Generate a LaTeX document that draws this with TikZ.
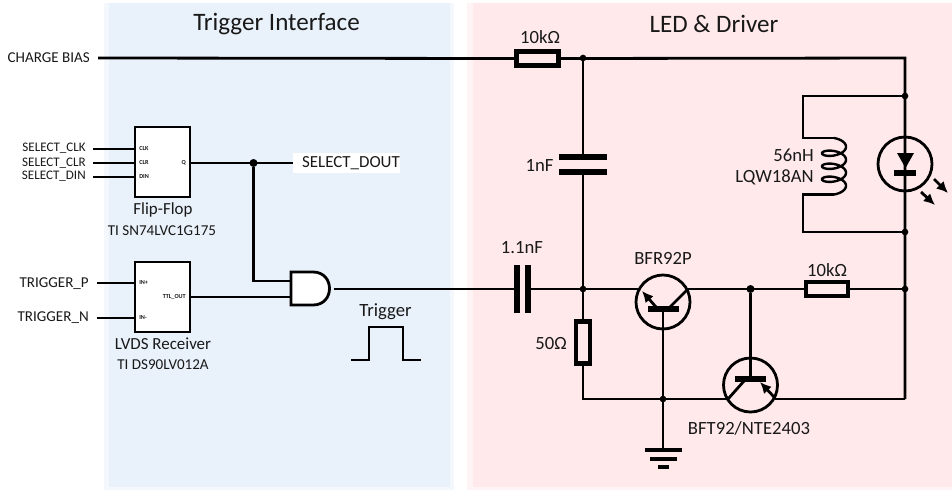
\documentclass[tikz,border=0pt]{standalone}
\usepackage{fontspec}
\usetikzlibrary{arrows.meta}
\setmainfont{Carlito}
\definecolor{panelb}{HTML}{E9F1FA}
\definecolor{panelr}{HTML}{FFE9EB}
\definecolor{halob}{HTML}{F4F8FC}
\definecolor{halor}{HTML}{FFF4F5}
\begin{document}
\begin{tikzpicture}[x=0.75pt,y=-0.75pt,
  wire/.style={line width=2.1pt,line join=miter},
  dotn/.style={circle,fill=black,inner sep=0pt,minimum size=6pt},
  smalldot/.style={circle,fill=black,inner sep=0pt,minimum size=5pt},
  res/.style={draw,line width=3.6pt,fill=none,inner sep=0pt,rectangle},
  chip/.style={draw,line width=2.1pt,fill=white,inner sep=0pt,rectangle,minimum width=41.25pt,minimum height=52.5pt},
  tr/.style={draw,line width=2.1pt,circle,inner sep=0pt,minimum size=40.5pt},
  plate/.style={line width=4pt},
  lab/.style={inner sep=0pt,text=black!90},
  big/.style={lab,font=\fontsize{18.8}{22}\selectfont},
  mid/.style={lab,font=\fontsize{14}{16}\selectfont},
  captxt/.style={lab,font=\fontsize{12.7}{15}\selectfont},
  sel/.style={lab,font=\fontsize{9.8}{11}\selectfont},
  pin/.style={lab,font=\bfseries\fontsize{4.6}{6}\selectfont},
  sub/.style={lab,font=\fontsize{11.3}{13}\selectfont},
  arr/.style={line width=2.1pt,-{Latex[length=8.5pt,width=8pt]}}
]
\useasboundingbox (0,0) rectangle (952,490);
\fill[white] (0,0) rectangle (952,490);
\fill[halob] (104,3) rectangle (454,490);
\fill[halor] (467,3) rectangle (952,490);
\fill[panelb] (109,3) rectangle (450,487);
\fill[panelr] (473,3) rectangle (952,487);
\node[big] (title1) at (276.5,24.5) {Trigger Interface};
\node[big] (title2) at (714,23.5) {LED \& Driver};

% chips
\node[chip] (ff) at (162.5,162) {};
\node[chip] (lv) at (162.5,297) {};
\node[pin,anchor=west] (ffclk) at (139,149) {CLK};
\node[pin,anchor=west] (ffclr) at (139,163) {CLR};
\node[pin,anchor=west] (ffdin) at (139,177) {DIN};
\node[pin,anchor=east] (ffq) at (186,163) {Q};
\node[pin,anchor=west] (lvp) at (139,283) {IN+};
\node[pin,anchor=west] (lvn) at (139,318) {IN-};
\node[pin,anchor=east] (lvo) at (186,297) {TTL\_OUT};
\node[captxt] (lff) at (163,210) {Flip-Flop};
\node[sub] (lff2) at (162,231) {TI SN74LVC1G175};
\node[captxt] (llv) at (163,344) {LVDS Receiver};
\node[sub] (llv2) at (163,365) {TI DS90LV012A};

% inputs
\node[sel,anchor=east] (sclk) at (86,148) {SELECT\_CLK};
\node[sel,anchor=east] (sclr) at (86,163) {SELECT\_CLR};
\node[sel,anchor=east] (sdin) at (86,176) {SELECT\_DIN};
\node[sub,anchor=east] (tp) at (89,284) {TRIGGER\_P};
\node[sub,anchor=east] (tn) at (89,318) {TRIGGER\_N};
\node[sub,anchor=east] (cb) at (90,58) {CHARGE BIAS};
\foreach \a/\y in {sclk/149,sclr/163,sdin/177}{\coordinate (\a i) at (93,\y); \coordinate (\a o) at (135,\y); \draw[wire] (\a i) -- (\a o);}
\coordinate (tpi) at (97,283); \coordinate (tpo) at (135,283);
\coordinate (tni) at (97,318); \coordinate (tno) at (135,318);
\draw[wire] (tpi) -- (tpo); \draw[wire] (tni) -- (tno);

% select dout
\node[fill=white,inner sep=0pt,minimum width=80pt,minimum height=14.5pt] (doutbg) at (346.5,163) {};
\node[captxt] (dout) at (351,163) {SELECT\_DOUT};
\coordinate (qo) at (190,163);
\coordinate (qe) at (293,163);
\coordinate (qj) at (253.5,163);
\draw[wire] (qo) -- (qe);
\node[dotn] (j1) at (qj) {};
\coordinate (a1) at (291,281);
\coordinate (a2) at (291,297);
\coordinate (lo) at (190,297);
\draw[wire] (j1) |- (a1);
\draw[wire] (lo) -- (a2);
% AND
\draw[line width=2.1pt,fill=white] (291,272) -- (313,272) .. controls (335,272) and (335,305) .. (313,305) -- (291,305) -- cycle;
\coordinate (ao) at (334,289);

% pulse
\coordinate (p0) at (351,360); \coordinate (p5) at (421,360);
\draw[wire] (p0) -- (369,360) -- (369,327) -- (403,327) -- (403,360) -- (p5);
\node[mid] (ltrig) at (385.5,312) {Trigger};

% top rail
\coordinate (cbi) at (98,58);
\node[res,minimum width=31.5pt,minimum height=10.5pt] (r1) at (537.5,58.5) {};
\coordinate (tj) at (583,58);
\coordinate (tr) at (905,58);
\draw[wire] (cbi) -- (r1.west);
\draw[wire] (r1.east) -- (tr) -- (905,399);
\node[smalldot] (j0) at (tj) {};
\node[mid] (lr1) at (540,37) {10kΩ};

% 1nF
\coordinate (c1a) at (559,157); \coordinate (c1b) at (607,157);
\coordinate (c2a) at (559,172); \coordinate (c2b) at (607,172);
\draw[plate] (c1a) -- (c1b); \draw[plate] (c2a) -- (c2b);
\coordinate (mj) at (583,289);
\draw[wire] (tj) -- (583,157); \draw[wire] (583,172) -- (mj);
\node[mid] (lc1) at (539.5,165) {1nF};

% 1.1nF
\draw[plate] (517,265) -- (517,313);
\draw[plate] (528,265) -- (528,313);
\draw[wire] (ao) -- (517,289);
\draw[wire] (528,289) -- (mj);
\node[mid] (lc2) at (522,248) {1.1nF};
\node[smalldot] (j2) at (mj) {};

% 50 ohm
\node[res,minimum width=10.5pt,minimum height=31.5pt] (r2) at (583,342.5) {};
\draw[wire] (mj) -- (r2.north);
\coordinate (bl) at (583,399);
\coordinate (gj) at (663,399);
\draw[wire] (r2.south) -- (bl) -- (gj);
\node[mid] (lr2) at (551,343) {50Ω};

% T1
\node[tr] (t1) at (663,302) {};
\node[smalldot] (j3) at (gj) {};
\draw[plate] (648,309) -- (679,309);
\draw[wire] (663,309) -- (gj);
\draw[wire] (mj) -- (638,289);
\coordinate (ce1) at (688,289);
\draw[wire] (670,307) -- (ce1);
\draw[arr] (656,307) -- (642,291);
\node[mid] (lt1) at (663,258) {BFR92P};

% right branch
\coordinate (mj2) at (750.5,289);
\node[res,minimum width=31.5pt,minimum height=10.5pt] (r3) at (827,289) {};
\draw[wire] (ce1) -- (r3.west);
\draw[wire] (r3.east) -- (905,289);
\node[smalldot] (j5) at (905,289) {};
\node[dotn] (j4) at (mj2) {};
\node[mid] (lr3) at (827,270) {10kΩ};

% T2
\node[tr] (t2) at (750.5,385) {};
\draw[plate] (735,379) -- (766,379);
\draw[wire] (j4) -- (750.5,379);
\draw[wire] (gj) -- (728,399);
\draw[wire] (744,381) -- (728,399);
\draw[arr] (775,398) -- (760,382);
\draw[wire] (775,399) -- (905,399);
\node[mid] (lt2) at (749,428) {BFT92/NTE2403};

% ground
\coordinate (g0) at (663,450);
\draw[wire] (gj) -- (g0);
\draw[line width=3pt] (645,450) -- (682,450);
\draw[line width=3pt] (650,459) -- (677,459);
\draw[line width=3pt] (658,467) -- (669,467);

% inductor
\coordinate (it) at (905,96); \coordinate (ib) at (905,232);
\draw[wire] (it) -- (803,96) -- (803,138) -- (834,138);
\draw[wire] (ib) -- (803,232) -- (803,194.5) -- (834,194.5);
\draw[line width=1.8pt] plot[domain=-90:1170,samples=160,smooth] ({834+12*cos(\x)},{143.5+13*(\x+90)/360+5.5*sin(\x)});
\node[smalldot] (j6) at (it) {};
\node[smalldot] (j7) at (ib) {};
\node[mid,anchor=east] (ll1) at (814,155) {56nH};
\node[mid,anchor=east] (ll2) at (814,177) {LQW18AN};

% LED
\node[tr] (led) at (905,164) {};
\fill (897,153) -- (914,153) -- (905.5,168) -- cycle;
\draw[plate] (894,173) -- (916,173);
\coordinate (l1a) at (934,179); \coordinate (l1b) at (948,193);
\coordinate (l2a) at (921,192); \coordinate (l2b) at (935,205);
\draw[arr] (l1a) -- (l1b);
\draw[arr] (l2a) -- (l2b);
\end{tikzpicture}
\end{document}
